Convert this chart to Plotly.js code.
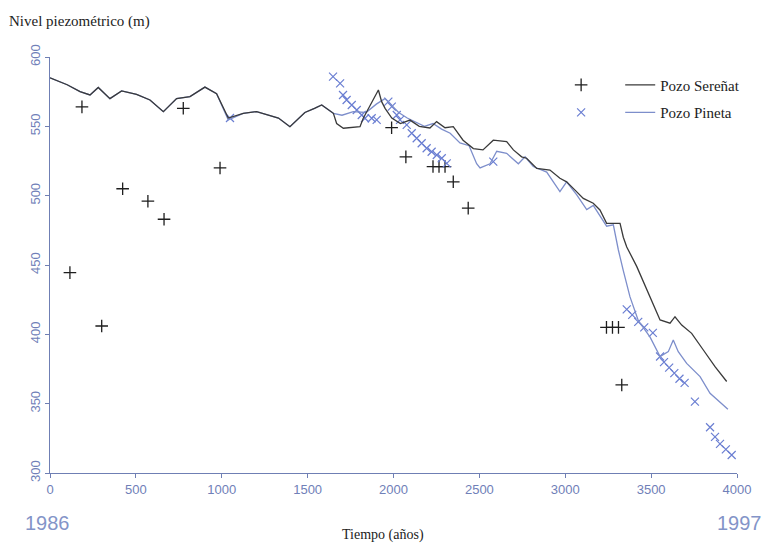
<!DOCTYPE html>
<html>
<head>
<meta charset="utf-8">
<script src="https://cdn.plot.ly/plotly-3.0.1.min.js"></script>
<style>html,body{margin:0;padding:0;background:#fff;}#chart{width:767px;height:548px;}</style>
</head>
<body>
<div id="chart"></div>
<script>
// Simulated heads (lines)
const serenatLineX = [0,100,175,233,281,349,417,504,582,660,737,815,902,970,1038,1125,1203,1280,1330,1397,1456,1484,1540,1582,1650,1669,1708,1805,1824,1873,1912,1931,1951,1990,2040,2096,2150,2212,2251,2300,2348,2405,2465,2521,2581,2659,2698,2746,2775,2834,2911,2969,3008,3057,3105,3163,3202,3241,3319,3338,3358,3416,3494,3552,3610,3639,3678,3736,3804,3872,3940];
const serenatLineY = [585,580,575,572.6,578,570,575.5,573,569,560.6,570,571.4,578.3,573.5,556,559.4,560.6,558,556,549.7,557,560,563,565.4,559.4,552,548.6,549.7,555.8,567.8,576.2,567.8,563,556,552,554.5,550,548.8,553.4,549,549.8,540,534,533,540,539,533,528,527,519.7,518.5,512.5,510,504,498,494.5,489.7,480,480,470,463,449,427,410.4,408,412.7,406.7,400.7,388.7,376.7,366];
const pinetaLineX = [0,100,175,233,281,349,417,504,582,660,737,815,902,970,1038,1125,1203,1280,1330,1397,1456,1484,1540,1582,1650,1700,1766,1840,1900,1950,1990,2030,2080,2130,2180,2230,2280,2330,2387,2440,2484,2504,2562,2601,2659,2727,2766,2814,2892,2969,3008,3067,3125,3163,3241,3280,3309,3338,3377,3425,3494,3552,3600,3629,3658,3707,3785,3843,3947];
const pinetaLineY = [585,580,575,572.6,578,570,575.5,573,569,560.6,570,571.4,578.3,573.5,554.6,559.4,560.6,558,556,549.7,557,560,563,565.4,559.4,558,560.6,560,566,570,565,560,556,553,550,552,548,545,538,536,523,520,523,532,530.5,523,528,521,517,503,510,500.5,490,493,478,479,461,446,427,410,398,384,387.5,396,387.5,379,369.5,357.5,346];
// Observations
const serenatObsX = [116,186,301,423,570,664,776,990,1989,2072,2230,2265,2300,2348,2435,3240,3275,3310,3329];
const serenatObsY = [444.5,564,406,505,496,483,563,520,549,528,521,521,521,510,491,405,405,405,363.5];
const pinetaObsX = [1048,1648,1689,1706,1727,1757,1786,1815,1834,1873,1902,1970,1990,2019,2038,2077,2106,2135,2164,2193,2222,2252,2281,2310,2581,3358,3390,3425,3460,3510,3552,3575,3605,3635,3665,3695,3755,3843,3872,3901,3935,3969];
const pinetaObsY = [556,585.8,581,572.6,569,565.4,561.8,558.2,555.8,555.8,554.6,567.8,564.2,558.2,554.6,551,545,541.4,537.8,534.2,531.7,529.3,527,523.3,524.5,418,414,409,405,401,384,380,376,372,368,365,351.5,333,326,321,317,313];
const xTicks = [0,500,1000,1500,2000,2500,3000,3500,4000];
const yTicks = [300,350,400,450,500,550,600];
const seriesNames = ['Pozo Sereñat','Pozo Pineta'];

const axisColor = '#6f7fb4';
const tickFont = {family:'Liberation Sans, Arial, sans-serif', size:13, color:'#7080b8'};
const serif = 'Liberation Serif, Times New Roman, serif';

const traces = [
  {x:serenatObsX, y:serenatObsY, mode:'markers', type:'scatter', name:' ', legend:'legend', legendgroup:'m1', legendrank:1,
   marker:{symbol:'cross-thin', size:9, line:{width:1.3, color:'#1e1e1e'}, color:'#1e1e1e'}},
  {x:pinetaObsX, y:pinetaObsY, mode:'markers', type:'scatter', name:' ', legend:'legend', legendgroup:'m2', legendrank:2,
   marker:{symbol:'x-thin', size:8, line:{width:1.2, color:'#6a7ed2'}, color:'#6a7ed2'}},
  {x:pinetaLineX, y:pinetaLineY, mode:'lines', type:'scatter', name:seriesNames[1], legend:'legend2', legendgroup:'l2', legendrank:2,
   line:{color:'#7d8ecb', width:1.3}},
  {x:serenatLineX, y:serenatLineY, mode:'lines', type:'scatter', name:seriesNames[0], legend:'legend2', legendgroup:'l1', legendrank:1,
   line:{color:'#3a3a3a', width:1.3}}
];

const legendCommon = {yanchor:'top', y:0.972, bgcolor:'rgba(0,0,0,0)', font:{family:serif, size:15, color:'#222'},
  traceorder:'grouped', tracegroupgap:5, itemwidth:30};

const layout = {
  width:767, height:548,
  margin:{l:50, r:30, t:57, b:75},
  paper_bgcolor:'#fff', plot_bgcolor:'#fff',
  showlegend:true,
  legend:Object.assign({}, legendCommon, {x:0.744, xanchor:'left'}),
  legend2:Object.assign({}, legendCommon, {x:0.83, xanchor:'left'}),
  xaxis:{range:[0,4000], tickvals:xTicks, ticktext:xTicks.map(String), showgrid:false, zeroline:false,
    showline:true, linecolor:axisColor, linewidth:1.2, ticks:'outside', ticklen:4, tickcolor:axisColor,
    tickfont:tickFont},
  yaxis:{range:[300,600], tickvals:yTicks, ticktext:yTicks.map(String), showgrid:false, zeroline:false,
    showline:true, linecolor:axisColor, linewidth:1.2, ticks:'outside', ticklen:4, tickcolor:axisColor,
    tickangle:-90, tickfont:tickFont},
  annotations:[
    {text:'Nivel piezométrico (m)', xref:'paper', yref:'paper', x:-0.062, y:1.085, xanchor:'left', yanchor:'middle',
     showarrow:false, font:{family:serif, size:15, color:'#222'}},
    {text:'Tiempo (años)', xref:'paper', yref:'paper', x:0.485, y:-0.148, xanchor:'center', yanchor:'middle',
     showarrow:false, font:{family:serif, size:14, color:'#222'}},
    {text:'1986', xref:'paper', yref:'paper', x:-0.04, y:-0.12, xanchor:'left', yanchor:'middle',
     showarrow:false, font:{family:'Liberation Sans, Arial, sans-serif', size:20, color:'#8394c8'}},
    {text:'1997', xref:'paper', yref:'paper', x:1.04, y:-0.12, xanchor:'right', yanchor:'middle',
     showarrow:false, font:{family:'Liberation Sans, Arial, sans-serif', size:20, color:'#8394c8'}}
  ]
};

Plotly.newPlot('chart', traces, layout, {staticPlot:true, displayModeBar:false});
</script>
</body>
</html>
